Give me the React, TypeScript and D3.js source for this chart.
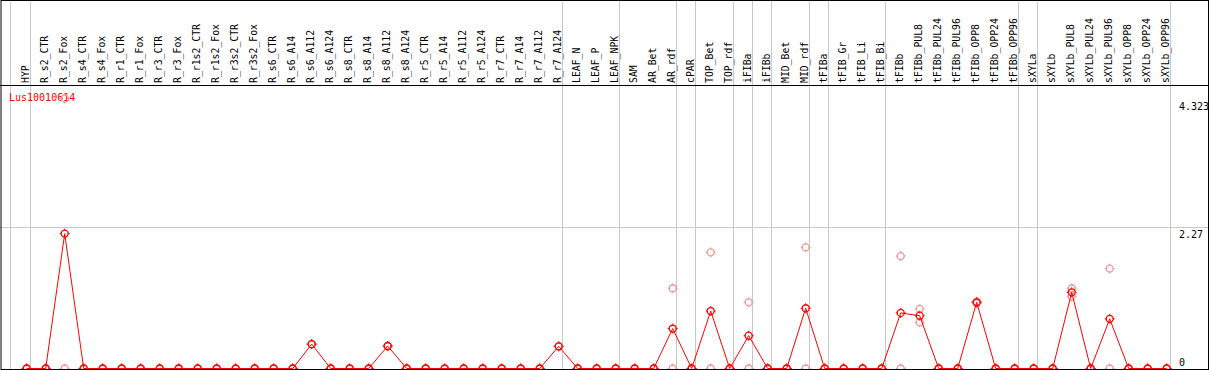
import React from "react";
import * as d3 from "d3";

const categories = [
  "HYP", "R_s2_CTR", "R_s2_Fox", "R_s4_CTR", "R_s4_Fox", "R_r1_CTR", "R_r1_Fox", "R_r3_CTR", "R_r3_Fox",
  "R_r1s2_CTR", "R_r1s2_Fox", "R_r3s2_CTR", "R_r3s2_Fox", "R_s6_CTR", "R_s6_A14", "R_s6_A112", "R_s6_A124",
  "R_s8_CTR", "R_s8_A14", "R_s8_A112", "R_s8_A124", "R_r5_CTR", "R_r5_A14", "R_r5_A112", "R_r5_A124",
  "R_r7_CTR", "R_r7_A14", "R_r7_A112", "R_r7_A124", "LEAF_N", "LEAF_P", "LEAF_NPK", "SAM", "AR_Bet", "AR_rdf",
  "cPAR", "TOP_Bet", "TOP_rdf", "iFIBa", "iFIBb", "MID_Bet", "MID_rdf", "tFIBa", "tFIB_Gr", "tFIB_Li", "tFIB_Bi",
  "tFIBb", "tFIBb_PUL8", "tFIBb_PUL24", "tFIBb_PUL96", "tFIBb_OPP8", "tFIBb_OPP24", "tFIBb_OPP96", "sXYLa",
  "sXYLb", "sXYLb_PUL8", "sXYLb_PUL24", "sXYLb_PUL96", "sXYLb_OPP8", "sXYLb_OPP24", "sXYLb_OPP96",
];

// mean expression (red line)
const meanValues = [
  0, 0, 2.16, 0, 0, 0, 0, 0, 0, 0, 0, 0, 0, 0, 0, 0.39, 0,
  0, 0, 0.36, 0, 0, 0, 0, 0, 0, 0, 0, 0.355, 0, 0, 0, 0, 0, 0.64,
  0, 0.92, 0, 0.525, 0, 0, 0.965, 0, 0, 0, 0,
  0.89, 0.845, 0, 0, 1.06, 0, 0, 0,
  0, 1.22, 0, 0.795, 0, 0, 0,
];

// replicate values (pink circles)
const replicate1 = [
  0, 0, 4.323, 0, 0, 0, 0, 0, 0, 0, 0, 0, 0, 0, 0, 0.39, 0,
  0, 0, 0.36, 0, 0, 0, 0, 0, 0, 0, 0, 0.355, 0, 0, 0, 0, 0, 1.285,
  0, 1.86, 0, 1.06, 0, 0, 1.94, 0, 0, 0, 0,
  1.8, 0.955, 0, 0, 1.07, 0, 0, 0,
  0, 1.285, 0, 1.6, 0, 0, 0,
];
const replicate2 = [
  0, 0, 0, 0, 0, 0, 0, 0, 0, 0, 0, 0, 0, 0, 0, 0.39, 0,
  0, 0, 0.36, 0, 0, 0, 0, 0, 0, 0, 0, 0.355, 0, 0, 0, 0, 0, 0,
  0, 0, 0, 0, 0, 0, 0, 0, 0, 0, 0,
  0, 0.74, 0, 0, 1.045, 0, 0, 0,
  0, 1.15, 0, 0, 0, 0, 0,
];

// group separators: drawn after these categories ("" = before the first one)
const separatorsAfter = [
  "", "HYP", "R_r7_A124", "LEAF_NPK", "AR_rdf", "cPAR", "TOP_rdf", "iFIBa", "iFIBb", "MID_rdf", "tFIBa",
  "tFIB_Bi", "tFIBb_OPP96", "sXYLa", "sXYLb_OPP96",
];

const tickValues = [4.323, 2.27, 0];
const gridValues = [2.27];
const geneName = "Lus10010614";

const W = 1209;
const H = 370;
const FONT = "'DejaVu Sans Mono', monospace";

function Marker({ cx, cy, color }: { cx: number; cy: number; color: string }) {
  const r = 3.5;
  return (
    <g stroke={color} fill="none">
      <circle cx={cx} cy={cy} r={r} strokeWidth={1.3} />
      <line x1={cx} x2={cx} y1={cy - r - 1.5} y2={cy - r + 0.5} strokeWidth={1} />
      <line x1={cx} x2={cx} y1={cy + r - 0.5} y2={cy + r + 1.5} strokeWidth={1} />
      <line x1={cx - r - 1.5} x2={cx - r + 0.5} y1={cy} y2={cy} strokeWidth={1} />
      <line x1={cx + r - 0.5} x2={cx + r + 1.5} y1={cy} y2={cy} strokeWidth={1} />
    </g>
  );
}

export default function App() {
  const x = d3.scalePoint<string>().domain(categories).range([26.7, 1166.7]);
  const step = x.step();
  const y = d3.scaleLinear().domain([0, 4.323]).range([368.5, 98.5]);

  const line = d3
    .line<number>()
    .x((_, i) => x(categories[i]) as number)
    .y((d) => y(d));

  const sepX = (c: string) => {
    const base = c === "" ? (x(categories[0]) as number) - step - 1 : (x(c) as number);
    return Math.round(base + 3.3) + 0.5;
  };

  return (
    <svg width={W} height={H} style={{ position: "absolute", left: 0, top: 0, background: "#fff" }}>
      <rect x={0} y={0} width={W} height={H} fill="#fff" />
      {/* gray separators */}
      {separatorsAfter.map((c, i) => (
        <line key={"s" + i} x1={sepX(c)} x2={sepX(c)} y1={0} y2={H} stroke="#c8c8c8" strokeWidth={1} />
      ))}
      {/* grid */}
      {gridValues.map((v, i) => (
        <line key={"g" + i} x1={0} x2={W} y1={Math.round(y(v)) + 0.5} y2={Math.round(y(v)) + 0.5} stroke="#c8c8c8" strokeWidth={1} />
      ))}
      {/* category labels */}
      {categories.map((c) => {
        const cx = (x(c) as number) + 2;
        return (
          <text
            key={c}
            transform={`translate(${cx},83) rotate(-90)`}
            fontFamily={FONT}
            fontSize={9.8}
            fill="#000"
          >
            {c}
          </text>
        );
      })}
      {/* header line */}
      <line x1={0} x2={W} y1={85.5} y2={85.5} stroke="#000" strokeWidth={1} />
      {/* gene name */}
      <text x={9} y={101} fontFamily={FONT} fontSize={10} fill="#ff0000">
        {geneName}
      </text>
      {/* tick labels */}
      {tickValues.map((v, i) => (
        <text
          key={"t" + i}
          x={1179}
          y={Math.min(y(v) + 11, 366)}
          fontFamily={FONT}
          fontSize={10}
          fill="#000"
        >
          {String(v)}
        </text>
      ))}
      {/* replicate points */}
      {[replicate1, replicate2].map((arr, k) =>
        arr.map((v, i) => (
          <Marker key={`r${k}-${i}`} cx={x(categories[i]) as number} cy={y(v)} color="#ee9999" />
        ))
      )}
      {/* mean line */}
      <path d={line(meanValues) || ""} fill="none" stroke="#ff0000" strokeWidth={1} />
      {meanValues.map((v, i) => (
        <Marker key={"m" + i} cx={x(categories[i]) as number} cy={y(v)} color="#ff0000" />
      ))}
      {/* frame */}
      <rect x={1} y={0.5} width={W - 1.5} height={H - 1} fill="none" stroke="#000" strokeWidth={1} />
      <line x1={1} x2={W} y1={H - 0.5} y2={H - 0.5} stroke="#000" strokeWidth={1} />
    </svg>
  );
}
